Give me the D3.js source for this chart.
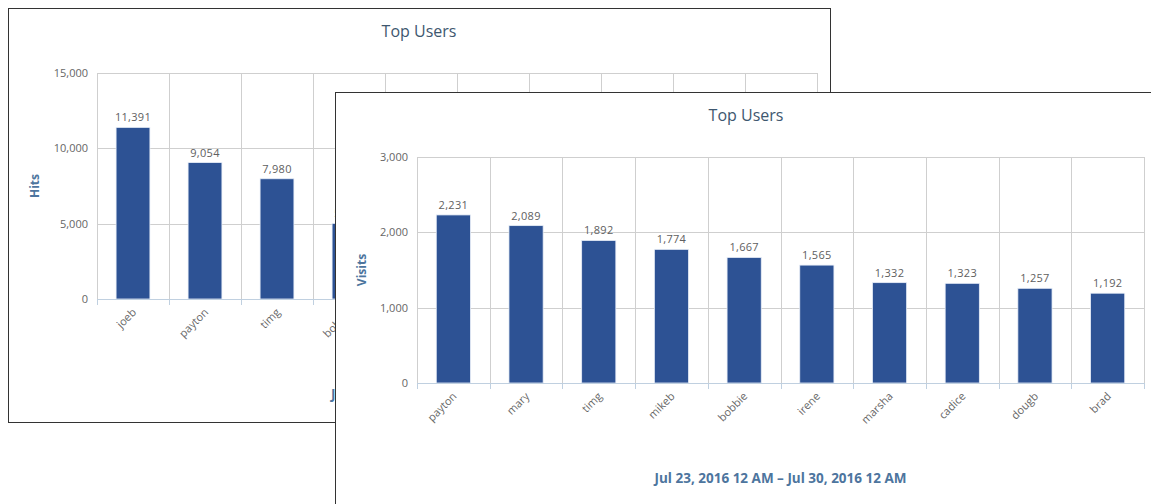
<!DOCTYPE html>
<html>
<head>
  <meta charset="UTF-8">
  <title>Top Users</title>
  <script src="https://cdn.jsdelivr.net/npm/d3@7/dist/d3.min.js"></script>
  <style>
    html, body { margin: 0; padding: 0; background: #fff; }
    svg { display: block; font-family: "Open Sans", "DejaVu Sans", sans-serif; }
  </style>
</head>
<body>
<script>
  // back panel: hits per user (only the first four are visible, the rest sit behind the front panel)
  const hitsUsers = ['joeb', 'payton', 'timg', 'bobbie', 'mary', 'mikeb', 'irene', 'marsha', 'cadice', 'dougb'];
  const hitsValues = [11391, 9054, 7980, 5020, 4800, 4500, 4300, 3900, 3700, 3500];
  const hitsTicks = [0, 5000, 10000, 15000];

  // front panel: visits per user
  const visitUsers = ['payton', 'mary', 'timg', 'mikeb', 'bobbie', 'irene', 'marsha', 'cadice', 'dougb', 'brad'];
  const visitValues = [2231, 2089, 1892, 1774, 1667, 1565, 1332, 1323, 1257, 1192];
  const visitTicks = [0, 1000, 2000, 3000];

  const chartTitle = 'Top Users';
  const dateRange = 'Jul 23, 2016 12 AM \u2013 Jul 30, 2016 12 AM';

  const W = 1151, H = 504;
  const panelW = 822, panelH = 414;
  const barColor = '#2d5294';
  const fmt = d3.format(',');

  const svg = d3.select('body').append('svg')
    .attr('width', W)
    .attr('height', H);

  //
  // draws one chart panel at (x0, y0)
  //
  function drawPanel(opts) {
    const g = svg.append('g')
      .attr('transform', 'translate(' + opts.x0 + ',' + opts.y0 + ')');

    g.append('rect')
      .attr('x', 0.5).attr('y', 0.5)
      .attr('width', panelW).attr('height', panelH)
      .style('fill', '#fff')
      .style('stroke', '#333')
      .style('stroke-width', 1);

    const left = opts.plotLeft, right = 809, top = 65, bottom = 291;

    const x = d3.scaleBand()
      .domain(opts.cats)
      .range([left, right]);

    const y = d3.scaleLinear()
      .domain([0, d3.max(opts.ticks)])
      .range([bottom, top]);

    // horizontal grid
    g.selectAll('.hgrid')
      .data(opts.ticks.filter(t => t > 0))
      .enter().append('line')
      .attr('x1', left).attr('x2', right)
      .attr('y1', d => Math.round(y(d)) + 0.5)
      .attr('y2', d => Math.round(y(d)) + 0.5)
      .style('stroke', '#cfcfcf');

    // vertical grid at band edges
    const edges = opts.cats.map(c => x(c)).concat([right]);
    g.selectAll('.vgrid')
      .data(edges)
      .enter().append('line')
      .attr('x1', d => Math.round(d) + 0.5).attr('x2', d => Math.round(d) + 0.5)
      .attr('y1', top).attr('y2', bottom)
      .style('stroke', '#cfcfcf');

    // bars
    const bw = x.bandwidth() * 0.47;
    g.selectAll('.bar')
      .data(opts.vals)
      .enter().append('rect')
      .attr('x', (d, i) => x(opts.cats[i]) + (x.bandwidth() - bw) / 2)
      .attr('y', d => y(d))
      .attr('width', bw)
      .attr('height', d => y(0) - y(d))
      .style('fill', barColor)
      .style('stroke', '#e8eef8')
      .style('stroke-width', 0.8);

    // data labels
    g.selectAll('.dlabel')
      .data(opts.vals)
      .enter().append('text')
      .attr('x', (d, i) => x(opts.cats[i]) + x.bandwidth() / 2)
      .attr('y', d => y(d) - 6)
      .attr('text-anchor', 'middle')
      .style('font-size', '11px')
      .style('fill', '#606060')
      .style('letter-spacing', '0.3px')
      .text(d => fmt(d));

    // x axis line and ticks
    g.append('line')
      .attr('x1', left).attr('x2', right)
      .attr('y1', bottom + 0.5).attr('y2', bottom + 0.5)
      .style('stroke', '#c0d0e0');
    g.selectAll('.xtick')
      .data(edges)
      .enter().append('line')
      .attr('x1', d => Math.round(d) + 0.5).attr('x2', d => Math.round(d) + 0.5)
      .attr('y1', bottom).attr('y2', bottom + 6)
      .style('stroke', '#c0d0e0');

    // x labels
    g.selectAll('.xlabel')
      .data(opts.cats)
      .enter().append('text')
      .attr('transform', d => 'translate(' + (x(d) + x.bandwidth() / 2 + 4) + ',' + (bottom + 14) + ') rotate(-45)')
      .attr('text-anchor', 'end')
      .style('font-size', '11px')
      .style('fill', '#666')
      .text(d => d);

    // y labels
    g.selectAll('.ylabel')
      .data(opts.ticks)
      .enter().append('text')
      .attr('x', left - 9)
      .attr('y', d => y(d))
      .attr('dy', '0.35em')
      .attr('text-anchor', 'end')
      .style('font-size', '11px')
      .style('fill', '#666')
      .text(d => fmt(d));

    // axis title
    g.append('text')
      .attr('transform', 'translate(31,' + ((top + bottom) / 2) + ') rotate(-90)')
      .attr('text-anchor', 'middle')
      .style('font-size', '12px')
      .style('font-weight', 'bold')
      .style('fill', '#4d759e')
      .text(opts.yTitle);

    // chart title
    g.append('text')
      .attr('x', panelW / 2)
      .attr('y', 29)
      .attr('text-anchor', 'middle')
      .style('font-size', '16px')
      .style('fill', '#3e576f')
      .text(chartTitle);

    // date range under the chart
    g.append('text')
      .attr('x', (left + right) / 2)
      .attr('y', 391)
      .attr('text-anchor', 'middle')
      .style('font-size', '13.5px')
      .style('font-weight', 'bold')
      .style('fill', '#4d759e')
      .text(dateRange);
  }

  drawPanel({ x0: 8, y0: 8, plotLeft: 89, cats: hitsUsers, vals: hitsValues, ticks: hitsTicks, yTitle: 'Hits' });
  drawPanel({ x0: 335, y0: 92, plotLeft: 82, cats: visitUsers, vals: visitValues, ticks: visitTicks, yTitle: 'Visits' });
</script>
</body>
</html>
